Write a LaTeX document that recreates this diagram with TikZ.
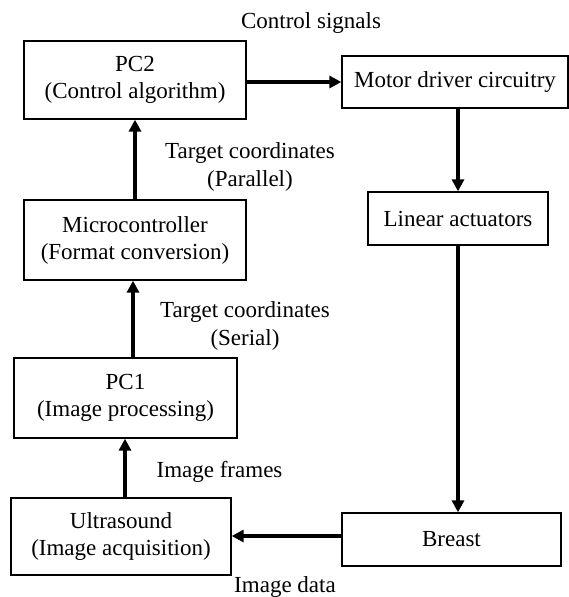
\documentclass[tikz,border=0pt]{standalone}
\usepackage{fontspec}
\setmainfont{Liberation Serif}
\usetikzlibrary{arrows.meta}
\begin{document}
\begin{tikzpicture}[x=1pt,y=-1pt,
  block/.style={draw, line width=1.3pt, inner sep=0pt, align=center,
    font=\fontsize{23}{27}\selectfont},
  lbl/.style={align=center, inner sep=0pt, font=\fontsize{23}{28}\selectfont},
  flow/.style={line width=3.2pt, -{Triangle[length=12pt,width=12pt]}}]
\useasboundingbox (0,0) rectangle (569,597);
% blocks on the left column
\node[block, minimum width=222pt, minimum height=78pt] (pc2) at (135,80)
  {PC2\\(Control algorithm)};
\node[block, minimum width=222pt, minimum height=80pt] (mcu) at (135,240)
  {Microcontroller\\(Format conversion)};
\node[block, minimum width=223pt, minimum height=80pt] (pc1) at (125.5,398)
  {PC1\\(Image processing)};
\node[block, minimum width=220pt, minimum height=77pt] (us) at (121,536.5)
  {Ultrasound\\(Image acquisition)};
% blocks on the right column
\node[block, minimum width=226pt, minimum height=52pt] (mdc) at (455,82)
  {Motor driver circuitry};
\node[block, minimum width=180pt, minimum height=53pt] (lin) at (458,218.5)
  {Linear actuators};
\node[block, minimum width=219pt, minimum height=53pt] (br) at (451.5,539.5)
  {Breast};
% connectors
\draw[flow] (us.north -| 125,0) -- (pc1.south -| 125,0);
\draw[flow] (pc1.north -| 133,0) -- (mcu.south -| 133,0);
\draw[flow] (mcu.north) -- (pc2.south);
\draw[flow] (pc2.east |- 0,82) -- (mdc.west);
\draw[flow] (mdc.south -| lin.north) -- (lin.north);
\draw[flow] (lin.south) -- (br.north -| lin.south);
\draw[flow] (br.west |- 0,536) -- (us.east |- 0,536);
% labels
\node[lbl] (lcs) at (311,23) {Control signals};
\node[lbl] (ltp) at (250,167) {Target coordinates\\(Parallel)};
\node[lbl] (lts) at (245,326) {Target coordinates\\(Serial)};
\node[lbl] (lif) at (219.5,472) {Image frames};
\node[lbl] (lid) at (285,587) {Image data};
\end{tikzpicture}
\end{document}
